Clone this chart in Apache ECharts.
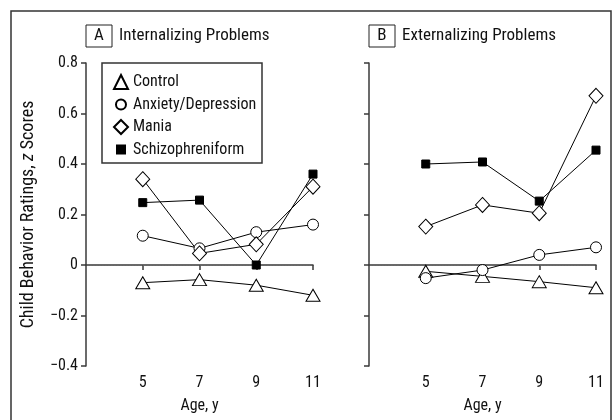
<!DOCTYPE html>
<html>
<head>
<meta charset="utf-8">
<script src="https://cdn.jsdelivr.net/npm/echarts@6/dist/echarts.min.js"></script>
<style>
  html, body { margin: 0; padding: 0; background: #fff; }
  #chart { width: 613px; height: 420px; }
</style>
</head>
<body>
<div id="chart"></div>
<script>
// ages on the x axis
const ages = [5, 7, 9, 11];
const groups = ['Control', 'Anxiety/Depression', 'Mania', 'Schizophreniform'];

// panel A: internalizing problems (z scores)
const internControl = [-0.07, -0.058, -0.08, -0.12];
const internAnxiety = [0.116, 0.066, 0.13, 0.16];
const internMania = [0.34, 0.046, 0.082, 0.31];
const internSchizo = [0.247, 0.257, 0, 0.36];

// panel B: externalizing problems (z scores)
const externControl = [-0.025, -0.045, -0.066, -0.09];
const externAnxiety = [-0.052, -0.02, 0.04, 0.07];
const externMania = [0.152, 0.238, 0.205, 0.67];
const externSchizo = [0.40, 0.408, 0.253, 0.455];

const yTicks = [-0.4, -0.2, 0, 0.2, 0.4, 0.6, 0.8];

const font = '"Roboto Condensed", "Liberation Sans", Arial, sans-serif';
const axisColor = '#3a3a3a';

const chart = echarts.init(document.getElementById('chart'));

const pair = (vals) => ages.map((a, i) => [a, vals[i]]);

const markerStyle = {
  Control: { symbol: 'triangle', symbolSize: [14, 12] },
  'Anxiety/Depression': { symbol: 'circle', symbolSize: 11 },
  Mania: { symbol: 'diamond', symbolSize: [14, 15] },
  Schizophreniform: { symbol: 'rect', symbolSize: 8 }
};

function makeSeries(name, vals, idx, withZero) {
  const filled = name === 'Schizophreniform';
  const s = {
    name: name,
    type: 'line',
    xAxisIndex: idx,
    yAxisIndex: idx,
    data: pair(vals),
    symbol: markerStyle[name].symbol,
    symbolSize: markerStyle[name].symbolSize,
    lineStyle: { color: '#000', width: 1 },
    itemStyle: { color: filled ? '#000' : '#fff', borderColor: '#000', borderWidth: 1 },
    emphasis: { disabled: true },
    z: 3
  };
  if (withZero) {
    s.markLine = {
      silent: true,
      symbol: 'none',
      label: { show: false },
      lineStyle: { color: '#666', type: [1, 2], width: 1 },
      data: [[{ coord: [3.1, 0] }, { coord: [11, 0] }]],
      z: 1
    };
  }
  return s;
}

function xAxis(idx) {
  return {
    type: 'value',
    gridIndex: idx,
    min: 3,
    max: 11,
    interval: 2,
    name: 'Age, y',
    nameLocation: 'middle',
    nameGap: 32,
    nameTextStyle: { fontFamily: font, fontSize: 16, color: '#111' },
    axisLine: { show: true, lineStyle: { color: axisColor, width: 1.5 } },
    axisTick: { show: true, length: 5, customValues: ages, lineStyle: { color: axisColor, width: 1.5 } },
    axisLabel: { customValues: ages, fontFamily: font, fontSize: 16, color: '#111', margin: 9 },
    splitLine: { show: false }
  };
}

function yAxis(idx) {
  const ax = {
    type: 'value',
    gridIndex: idx,
    min: -0.4,
    max: 0.8,
    interval: 0.2,
    axisLine: { show: true, lineStyle: { color: axisColor, width: 1.5 } },
    axisTick: { show: true, length: 5, lineStyle: { color: axisColor, width: 1.5 } },
    axisLabel: {
      show: idx === 0,
      fontFamily: font,
      fontSize: 16,
      color: '#111',
      margin: 8,
      customValues: yTicks,
      formatter: (v) => {
        const r = Math.round(v * 10) / 10;
        if (r === 0) return '0';
        return (r < 0 ? '\u2212' : '') + Math.abs(r).toFixed(1);
      }
    },
    splitLine: { show: false }
  };
  if (idx === 0) {
    ax.name = '{a|Child Behavior Ratings, }{i|z}{a| Scores}';
    ax.nameLocation = 'middle';
    ax.nameGap = 49;
    ax.nameRotate = 90;
    ax.nameTextStyle = {
      rich: {
        a: { fontFamily: font, fontSize: 18, color: '#111' },
        i: { fontFamily: font, fontSize: 18, color: '#111', fontStyle: 'italic' }
      }
    };
  }
  return ax;
}

function titleBox(x, letter, text) {
  return [
    {
      type: 'rect',
      shape: { x: x, y: 25, width: 26, height: 22 },
      style: { fill: '#fff', stroke: '#222', lineWidth: 1 }
    },
    {
      type: 'text',
      x: x + 13,
      y: 36,
      style: { text: letter, fontFamily: font, fontSize: 17, fill: '#111', align: 'center', verticalAlign: 'middle' }
    },
    {
      type: 'text',
      x: x + 33,
      y: 36,
      style: { text: text, fontFamily: font, fontSize: 17, fill: '#111', align: 'left', verticalAlign: 'middle' }
    }
  ];
}

const option = {
  animation: false,
  backgroundColor: '#fff',
  grid: [
    { left: 86, top: 63, width: 227, height: 303 },
    { left: 369, top: 63, width: 227, height: 303 }
  ],
  xAxis: [xAxis(0), xAxis(1)],
  yAxis: [yAxis(0), yAxis(1)],
  legend: {
    orient: 'vertical',
    left: 108,
    top: 69,
    itemWidth: 14,
    itemHeight: 14,
    itemGap: 6.5,
    selectedMode: false,
    textStyle: { fontFamily: font, fontSize: 16, color: '#111' },
    data: [
      { name: 'Control', icon: 'triangle' },
      { name: 'Anxiety/Depression', icon: 'path://M0,0 M7,2 A5,5 0 1 1 6.99,2 Z M14,14' },
      { name: 'Mania', icon: 'diamond' },
      { name: 'Schizophreniform', icon: 'path://M0,0 M3,3 L11,3 L11,11 L3,11 Z M14,14' }
    ]
  },
  graphic: [
    {
      type: 'rect',
      shape: { x: 11, y: 11, width: 600, height: 430 },
      style: { fill: 'none', stroke: '#333', lineWidth: 1.5 },
      silent: true
    },
    {
      type: 'rect',
      shape: { x: 102, y: 63, width: 160, height: 100 },
      style: { fill: '#fff', stroke: '#333', lineWidth: 1.5 },
      z: 0,
      silent: true
    },
    ...titleBox(86, 'A', 'Internalizing Problems'),
    ...titleBox(369, 'B', 'Externalizing Problems')
  ],
  series: [
    makeSeries('Control', internControl, 0, true),
    makeSeries('Anxiety/Depression', internAnxiety, 0, false),
    makeSeries('Mania', internMania, 0, false),
    makeSeries('Schizophreniform', internSchizo, 0, false),
    makeSeries('Control', externControl, 1, true),
    makeSeries('Anxiety/Depression', externAnxiety, 1, false),
    makeSeries('Mania', externMania, 1, false),
    makeSeries('Schizophreniform', externSchizo, 1, false)
  ]
};

chart.setOption(option);
</script>
</body>
</html>
